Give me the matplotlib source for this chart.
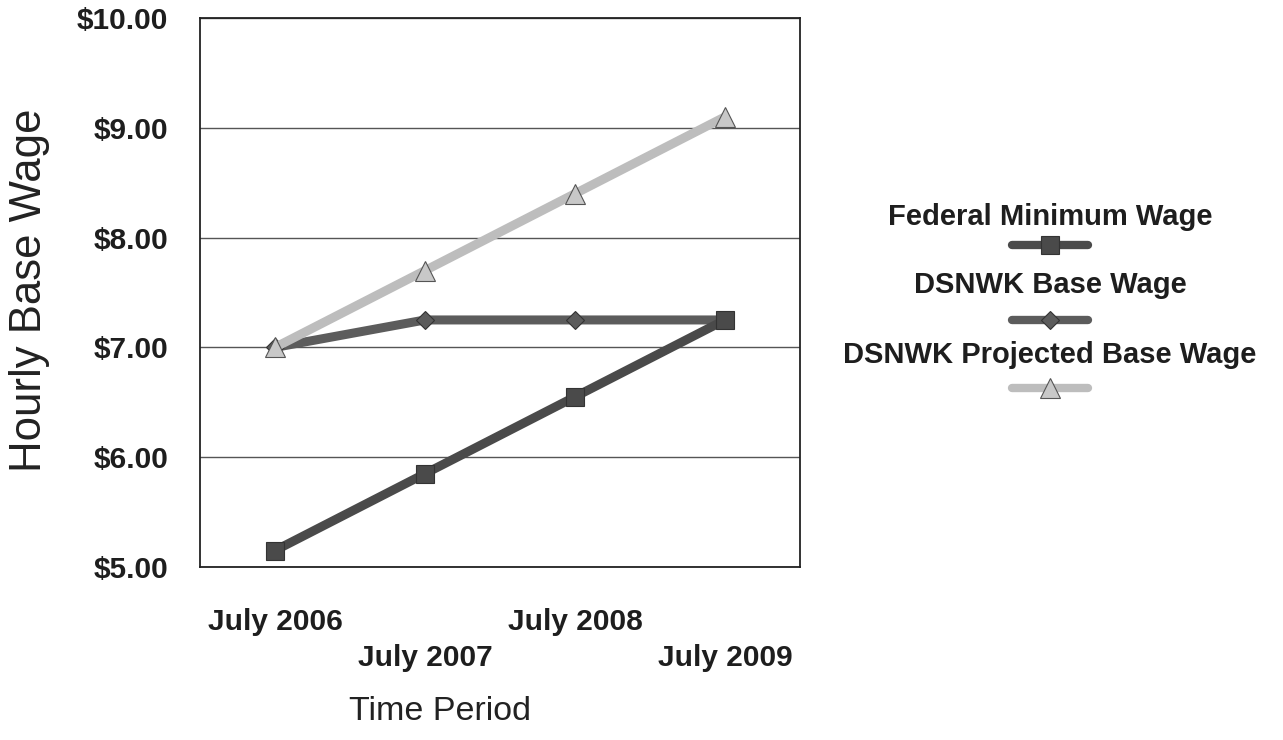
import matplotlib.pyplot as plt
from matplotlib.lines import Line2D

plt.rcParams['font.family'] = ['Liberation Sans', 'DejaVu Sans']

periods = ['July 2006', 'July 2007', 'July 2008', 'July 2009']
federal_min = [5.15, 5.85, 6.55, 7.25]
dsnwk_base = [7.00, 7.25, 7.25, 7.25]
dsnwk_projected = [7.00, 7.70, 8.40, 9.10]

series = [
    ('Federal Minimum Wage', federal_min, '#4a4a4a', 's', 13, 3),
    ('DSNWK Base Wage', dsnwk_base, '#5c5c5c', 'D', 9.5, 2),
    ('DSNWK Projected Base Wage', dsnwk_projected, '#bdbdbd', '^', 14, 4),
]

fig = plt.figure(figsize=(12.83, 7.40), dpi=100)
ax = fig.add_axes([200 / 1283, 1 - 567 / 740, 600 / 1283, 549 / 740])

x = list(range(len(periods)))
for name, vals, col, mk, ms, z in series:
    ax.plot(x, vals, color=col, lw=6.5, marker=mk, markersize=ms,
            markerfacecolor=col if mk != '^' else '#c8c8c8',
            markeredgecolor='#333333' if mk != '^' else '#555555',
            markeredgewidth=0.8, zorder=z, solid_capstyle='butt')

ax.set_xlim(-0.5, 3.5)
ax.set_ylim(5, 10)
ax.set_yticks([5, 6, 7, 8, 9, 10])
ax.set_yticklabels(['$%.2f' % v for v in [5, 6, 7, 8, 9, 10]],
                   fontsize=21.5, fontweight='bold', color='#1e1e1e')
ax.yaxis.grid(True, color='#555555', lw=1.0)
ax.set_axisbelow(True)
ax.tick_params(axis='y', length=0, pad=23)

# staggered category labels
ax.set_xticks(x)
ax.set_xticklabels([])
ax.tick_params(axis='x', length=0)
for i, lab in enumerate(periods):
    yoff = -0.10 if i % 2 == 0 else -0.165
    ax.text(i, yoff, lab, transform=ax.get_xaxis_transform(),
            ha='center', va='center', fontsize=21.5, fontweight='bold', color='#1e1e1e')

for sp in ax.spines.values():
    sp.set_color('#222222')
    sp.set_linewidth(1.3)

fig.text(30 / 1283, 1 - 290 / 740, 'Hourly Base Wage', rotation=90,
         ha='center', va='center', fontsize=31.5, color='#222222')
fig.text(440 / 1283, 1 - 712 / 740, 'Time Period',
         ha='center', va='center', fontsize=24.5, color='#222222')

# legend stacked as label over sample line
leg_y = [(217, 245), (285, 320), (355, 388)]
for (name, vals, col, mk, ms, z), (ty, ly) in zip(series, leg_y):
    fig.text(1050 / 1283, 1 - ty / 740, name, ha='center', va='center',
             fontsize=21, fontweight='bold', color='#1e1e1e')
    fig.add_artist(Line2D([1012 / 1283, 1088 / 1283], [1 - ly / 740] * 2,
                          transform=fig.transFigure, color=col, lw=6,
                          solid_capstyle='round'))
    fig.add_artist(Line2D([1050 / 1283], [1 - ly / 740], transform=fig.transFigure,
                          marker=mk, markersize=ms, lw=0,
                          markerfacecolor=col if mk != '^' else '#c8c8c8',
                          markeredgecolor='#333333' if mk != '^' else '#555555',
                          markeredgewidth=0.8))

fig.savefig('out.png', dpi=100)
